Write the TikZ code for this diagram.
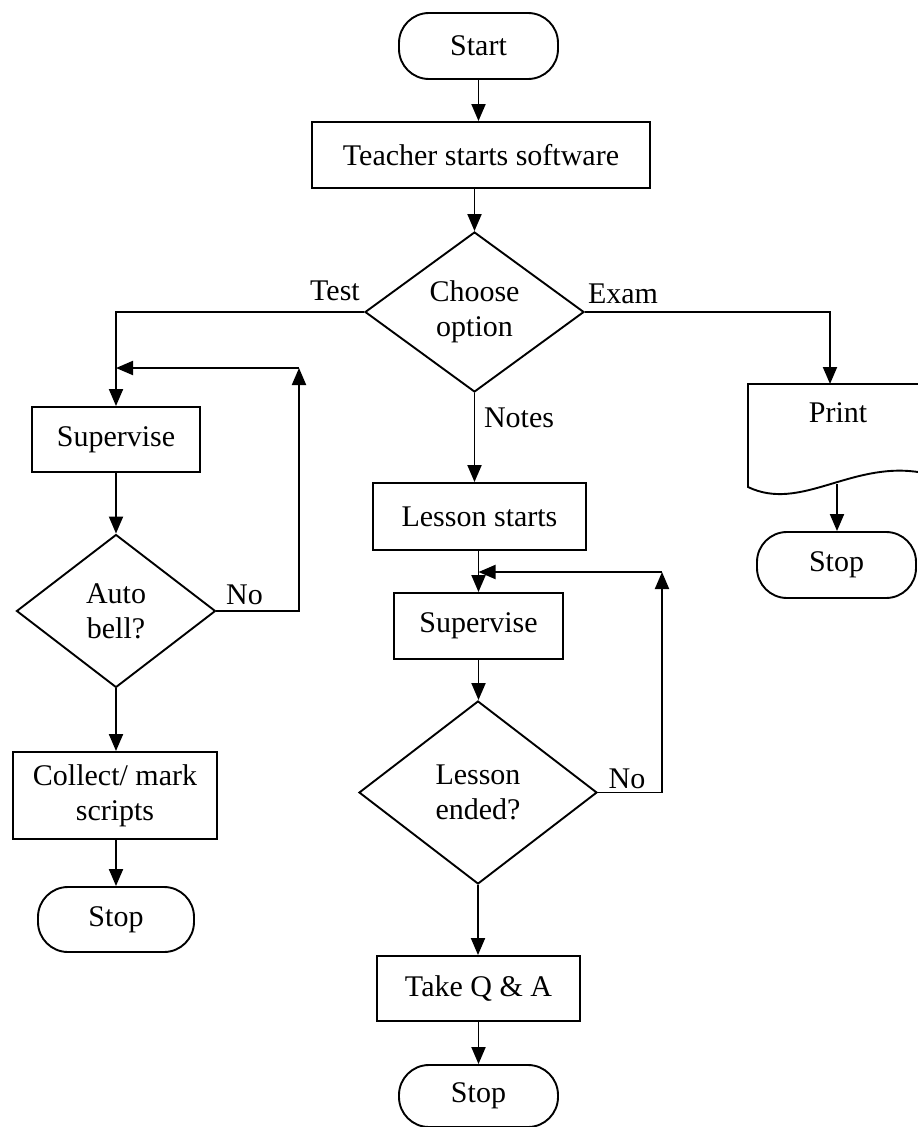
\documentclass[tikz,border=0pt]{standalone}
\usepackage{fontspec}
\setmainfont{Liberation Serif}
\usetikzlibrary{arrows.meta,shapes.geometric}
\tikzset{
  every node/.style={font=\fontsize{30}{35}\selectfont},
  box/.style={draw, rectangle, line width=1.9pt, inner sep=0pt, align=center},
  term/.style={box, rounded corners=30pt},
  decision/.style={draw, diamond, line width=1.9pt, inner sep=0pt, align=center},
  flow/.style={line width=1.9pt, -{Triangle[length=17pt,width=14pt]}},
  plain/.style={line width=1.9pt},
  lbl/.style={inner sep=0pt}
}
\begin{document}
\begin{tikzpicture}[x=1pt,y=-1pt]
\useasboundingbox (0,0) rectangle (918,1127);

% main column
\node[term, minimum width=159pt, minimum height=66pt] (start) at (478.5,46) {Start};
\node[box, minimum width=338pt, minimum height=66pt] (teach) at (481,155) {Teacher starts software};
\node[decision, minimum width=219pt, minimum height=160pt] (choose) at (474.5,312) {Choose\\option};

% test branch
\node[box, minimum width=168pt, minimum height=65pt] (supA) at (116,439.5) {Supervise};
\node[decision, minimum width=199pt, minimum height=153pt] (bell) at (116,611) {Auto\\bell?};
\node[box, minimum width=204pt, minimum height=87pt] (collect) at (115,795.5) {Collect/ mark\\scripts};
\node[term, minimum width=156pt, minimum height=65pt] (stopA) at (116,919.5) {Stop};

% notes branch
\node[box, minimum width=213pt, minimum height=67pt] (lesson) at (479.5,516.5) {Lesson starts};
\node[box, minimum width=169pt, minimum height=66pt] (supB) at (478.5,626) {Supervise};
\node[decision, minimum width=238pt, minimum height=183pt] (ended) at (478,792.5) {Lesson\\ended?};
\node[box, minimum width=203pt, minimum height=65pt] (qa) at (478.5,988.5) {Take Q \& A};
\node[term, minimum width=159pt, minimum height=62pt] (stopB) at (478.5,1096) {Stop};

% exam branch: document symbol
\draw[plain] (930,384) -- (748,384) -- (748,487)
  .. controls (800,512) and (850,462) .. (918,472) -- (930,472);
\node[lbl] (print) at (838,413) {Print};
\coordinate (printin) at (830,384);
\coordinate (printout) at (837,484);
\node[term, minimum width=159pt, minimum height=66pt] (stopC) at (836.5,565) {Stop};

% connectors
\draw[flow] (start.south) -- (start.south |- teach.north);
\draw[flow] (choose.north |- teach.south) -- (choose.north);
\draw[flow] (choose.west) -| (supA.north);
\draw[flow] (choose.east) -| (printin);
\draw[flow] (choose.south) -- (choose.south |- lesson.north);

\draw[flow] (supA.south) -- (bell.north);
\draw[flow] (bell.south) -- (bell.south |- collect.north);
\draw[flow] (collect.south -| stopA.north) -- (stopA.north);
\coordinate (loopA) at (299,368);
\draw[flow] (bell.east) -| (loopA);
\draw[flow] (loopA) -- (loopA -| supA.north);

\draw[flow] (supB.north |- lesson.south) -- (supB.north);
\draw[flow] (supB.south) -- (supB.south |- ended.north);
\coordinate (loopB) at (662,572);
\draw[flow] (ended.east) -| (loopB);
\draw[flow] (loopB) -- (loopB -| supB.north);
\draw[flow] (ended.south) -- (ended.south |- qa.north);
\draw[flow] (qa.south) -- (qa.south |- stopB.north);

\draw[flow] (printout) -- (printout |- stopC.north);

% branch labels
\node[lbl] (ltest) at (335,291) {Test};
\node[lbl] (lexam) at (623,294) {Exam};
\node[lbl] (lnotes) at (519,418) {Notes};
\node[lbl] (lnoA) at (244.5,595) {No};
\node[lbl] (lnoB) at (627,779) {No};
\end{tikzpicture}
\end{document}
